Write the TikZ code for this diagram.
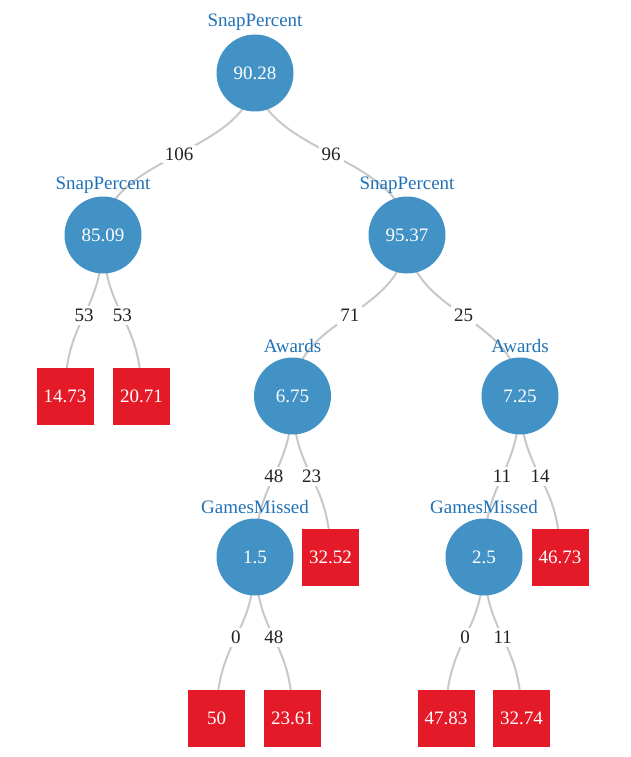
\documentclass[tikz,border=0pt]{standalone}
\usepackage{fontspec}
\setmainfont{Liberation Serif}
\usetikzlibrary{calc,backgrounds}
\definecolor{nodeblue}{RGB}{66,146,198}
\definecolor{labelblue}{RGB}{33,113,181}
\definecolor{leafred}{RGB}{228,26,40}
\definecolor{edgegray}{RGB}{200,200,200}
\definecolor{textdark}{RGB}{34,34,34}
\newcommand\treefont{\fontsize{19}{22}\selectfont}
\tikzset{
  split/.style={circle, fill=nodeblue, minimum size=77pt, inner sep=0pt, text=white, font=\treefont},
  leaf/.style={rectangle, fill=leafred, minimum width=57pt, minimum height=57pt, inner sep=0pt, text=white, font=\treefont},
  feat/.style={text=labelblue, anchor=base, inner sep=0pt, font=\treefont},
  elabel/.style={fill=white, inner sep=3pt, text=textdark, font=\treefont},
  edge/.style={draw=edgegray, line width=2pt}
}
\newcommand\treeedge[3]{%
  \coordinate (m) at ($(#1)!0.5!(#2)$);
  \draw[edge] (#1.center) .. controls (#1 |- m) and (#2 |- m) .. (#2.center) node[pos=0.5, elabel] {#3};
}
\begin{document}
\begin{tikzpicture}[x=1pt, y=-1pt]
  \useasboundingbox (0,0) rectangle (630,757);
  % split nodes
  \node[split] (root) at (255,73) {90.28};
  \node[split] (s1) at (103,235) {85.09};
  \node[split] (s2) at (407,235) {95.37};
  \node[split] (a1) at (292.5,396) {6.75};
  \node[split] (a2) at (520,396) {7.25};
  \node[split] (g1) at (255,557) {1.5};
  \node[split] (g2) at (484,557) {2.5};
  % leaves
  \node[leaf] (l1) at (65,396) {14.73};
  \node[leaf] (l2) at (141.5,396) {20.71};
  \node[leaf] (l3) at (330.5,557) {32.52};
  \node[leaf] (l4) at (560,557) {46.73};
  \node[leaf] (l5) at (216.5,718) {50};
  \node[leaf] (l6) at (292.5,718) {23.61};
  \node[leaf] (l7) at (446,718) {47.83};
  \node[leaf] (l8) at (521.5,718) {32.74};
  % feature labels
  \node[feat] (t0) at ([yshift=46pt]root.center) {SnapPercent};
  \node[feat] (t1) at ([yshift=46pt]s1.center) {SnapPercent};
  \node[feat] (t2) at ([yshift=46pt]s2.center) {SnapPercent};
  \node[feat] (t3) at ([yshift=44pt]a1.center) {Awards};
  \node[feat] (t4) at ([yshift=44pt]a2.center) {Awards};
  \node[feat] (t5) at ([yshift=44pt]g1.center) {GamesMissed};
  \node[feat] (t6) at ([yshift=44pt]g2.center) {GamesMissed};
  % edges
  \begin{pgfonlayer}{background}
    \treeedge{root}{s1}{106}
    \treeedge{root}{s2}{96}
    \treeedge{s1}{l1}{53}
    \treeedge{s1}{l2}{53}
    \treeedge{s2}{a1}{71}
    \treeedge{s2}{a2}{25}
    \treeedge{a1}{g1}{48}
    \treeedge{a1}{l3}{23}
    \treeedge{a2}{g2}{11}
    \treeedge{a2}{l4}{14}
    \treeedge{g1}{l5}{0}
    \treeedge{g1}{l6}{48}
    \treeedge{g2}{l7}{0}
    \treeedge{g2}{l8}{11}
  \end{pgfonlayer}
\end{tikzpicture}
\end{document}
